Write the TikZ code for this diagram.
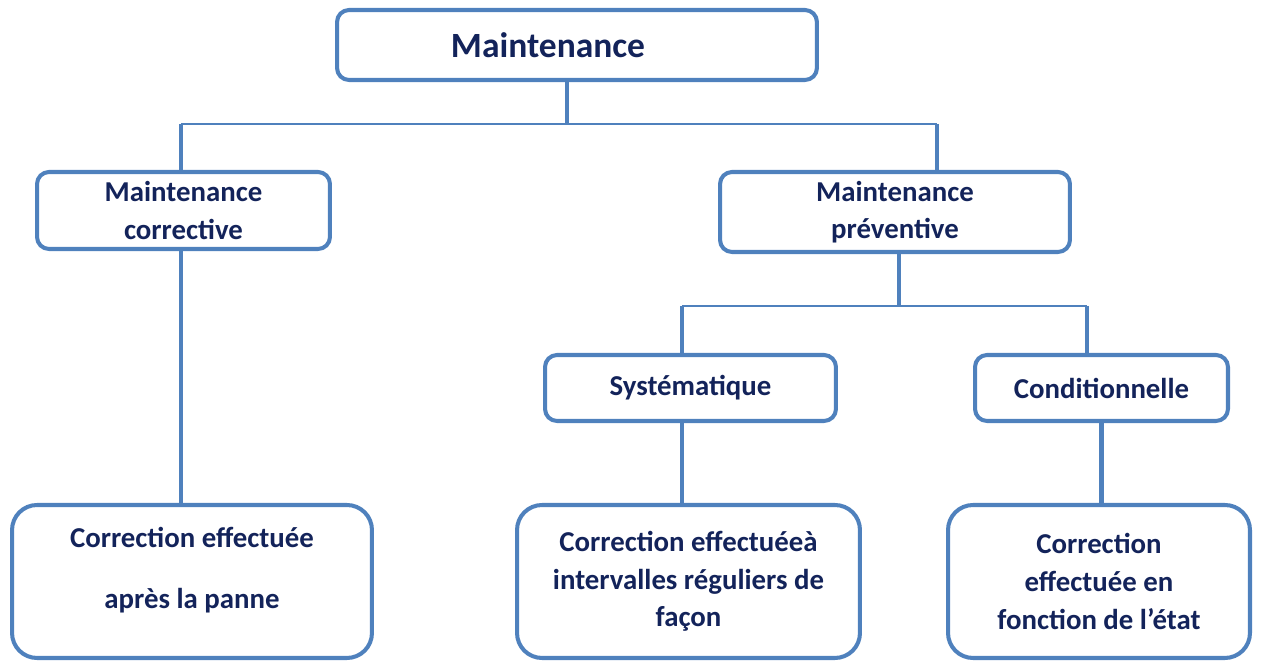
\documentclass[tikz,border=0pt]{standalone}
\usepackage{fontspec}
\setmainfont{Carlito}
\usetikzlibrary{positioning}
\definecolor{boxblue}{HTML}{4F81BD}
\definecolor{textnavy}{HTML}{13235A}

\begin{document}
\begin{tikzpicture}[x=0.02cm,y=-0.02cm,
        box/.style={draw=boxblue,line width=2.3pt,rounded corners=0.24cm,
                    inner sep=0pt,text=textnavy,align=center,
                    font=\bfseries\fontsize{16.4pt}{21.4pt}\selectfont},
        bigbox/.style={box,rounded corners=0.5cm,minimum height=3.06cm},
        link/.style={draw=boxblue,line width=2.3pt},
        bus/.style={draw=boxblue,line width=1.1pt}]
    \useasboundingbox (0,0) rectangle (1262,661);

    \node[box,minimum width=9.6cm,minimum height=1.4cm,
          font=\bfseries\fontsize{20.2pt}{24pt}\selectfont] (maint) at (577,45)
          {Maintenance\hspace*{1.16cm}};

    \node[box,minimum width=5.86cm,minimum height=1.54cm] (corr) at (183.5,210.5)
          {Maintenance\\corrective};
    \node[box,minimum width=7cm,minimum height=1.6cm] (prev) at (895,212)
          {Maintenance\\préventive};

    \node[box,minimum width=5.82cm,minimum height=1.32cm] (syst) at (690.5,388)
          {Systématique};
    \node[box,minimum width=5.06cm,minimum height=1.32cm] (cond) at (1101.5,388)
          {Conditionnelle};

    \node[bigbox,minimum width=7.2cm] (corrtxt) at (192,581.5)
          {Correction effectuée\\[0.46cm]après la panne\\[-0.2cm]\mbox{}};
    \node[bigbox,minimum width=6.86cm] (systtxt) at (688.5,581.5)
          {Correction effectuéeà\\intervalles réguliers de\\façon};
    \node[bigbox,minimum width=6.04cm] (condtxt) at (1099,581.5)
          {Correction\\effectuée en\\fonction de l’état};

    % bus lines
    \coordinate (busA) at (567,124);
    \coordinate (busAL) at (181,124);
    \coordinate (busAR) at (937,124);
    \coordinate (busB) at (899,306);
    \coordinate (busBL) at (682,306);
    \coordinate (busBR) at (1087,306);

    \draw[link] (maint.south -| busA) -- (busA);
    \draw[bus] (busAL) -- (busAR);
    \draw[link] (busAL) -- (corr.north -| busAL);
    \draw[link] (busAR) -- (prev.north -| busAR);
    \draw[link] (corr.south -| busAL) -- (corrtxt.north -| busAL);

    \draw[link] (prev.south -| busB) -- (busB);
    \draw[bus] (busBL) -- (busBR);
    \draw[link] (busBL) -- (syst.north -| busBL);
    \draw[link] (busBR) -- (cond.north -| busBR);
    \draw[link] (syst.south -| busBL) -- (systtxt.north -| busBL);
    \draw[link] (cond.south) -- (cond.south |- condtxt.north);
\end{tikzpicture}
\end{document}
